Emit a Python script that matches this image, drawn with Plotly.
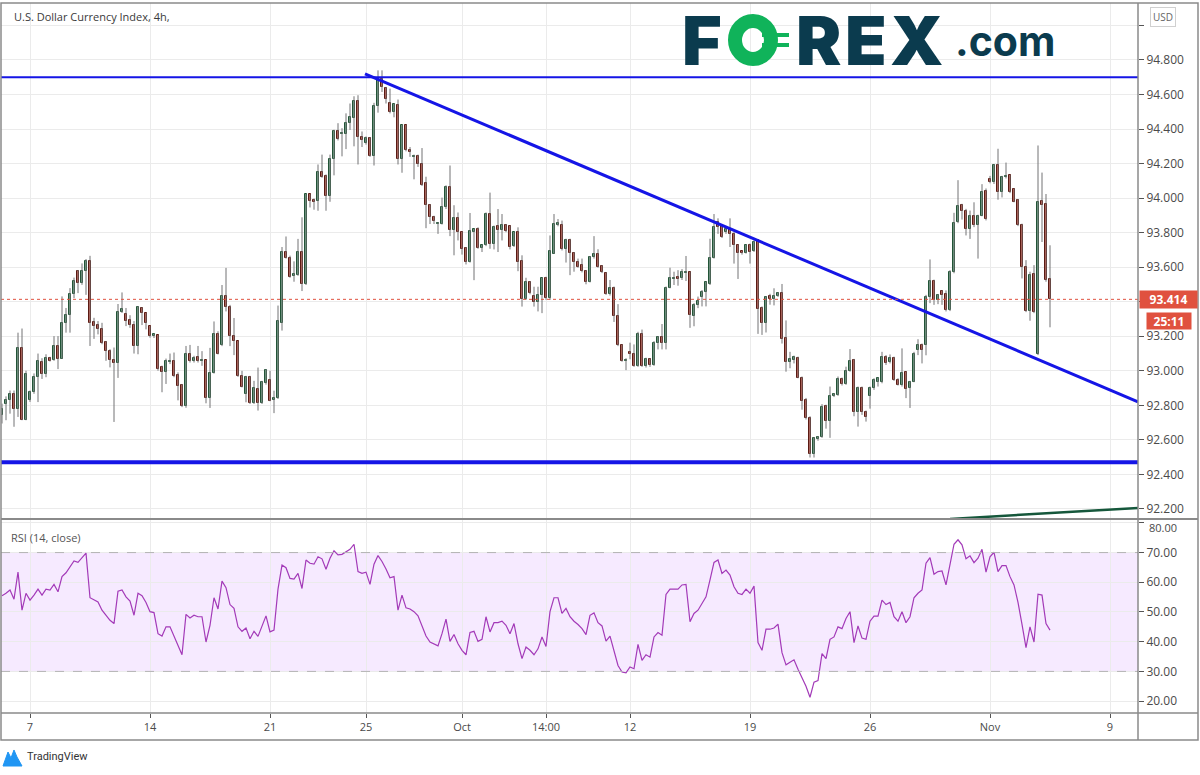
import plotly.graph_objects as go

# ---------------- data ----------------
opens = [
    92.743, 92.806, 92.829, 92.863, 92.781, 93.131, 92.718, 92.832, 92.880, 92.963,
    93.054, 92.982, 93.077, 93.062, 93.142, 93.071, 93.276, 93.322, 93.446, 93.580,
    93.511, 93.580, 93.636, 93.282, 93.263, 93.240, 93.169, 93.115, 93.064, 93.043,
    93.339, 93.330, 93.297, 93.268, 93.144, 93.364, 93.335, 93.259, 93.204, 93.207,
    93.020, 92.991, 93.053, 93.058, 92.976, 92.920, 92.794, 93.100, 93.058, 93.083,
    93.058, 93.061, 92.843, 92.990, 93.214, 93.149, 93.434, 93.367, 93.204, 93.172,
    92.971, 92.866, 92.965, 92.814, 92.894, 92.814, 92.927, 92.946, 92.833, 92.843,
    93.277, 93.688, 93.654, 93.551, 93.554, 93.688, 93.501, 94.023, 93.988, 93.984,
    94.153, 94.128, 94.013, 94.227, 94.390, 94.370, 94.372, 94.434, 94.462, 94.564,
    94.353, 94.319, 94.348, 94.246, 94.533, 94.692, 94.640, 94.552, 94.501, 94.539,
    94.227, 94.424, 94.281, 94.239, 94.246, 94.195, 94.086, 93.961, 93.889, 93.850,
    93.850, 93.946, 94.067, 93.818, 93.883, 93.803, 93.711, 93.631, 93.803, 93.822,
    93.711, 93.726, 93.908, 93.736, 93.837, 93.818, 93.845, 93.841, 93.722, 93.803,
    93.634, 93.416, 93.516, 93.436, 93.401, 93.439, 93.535, 93.424, 93.678, 93.843,
    93.847, 93.703, 93.755, 93.684, 93.631, 93.612, 93.577, 93.516, 93.660, 93.679,
    93.608, 93.564, 93.444, 93.482, 93.316, 93.149, 93.059, 93.111, 93.099, 93.029,
    93.214, 93.029, 93.067, 93.034, 93.163, 93.195, 93.163, 93.482, 93.531, 93.545,
    93.535, 93.566, 93.570, 93.316, 93.382, 93.430, 93.459, 93.501, 93.654, 93.860,
    93.845, 93.803, 93.822, 93.793, 93.727, 93.692, 93.684, 93.727, 93.692, 93.755,
    93.363, 93.277, 93.432, 93.417, 93.432, 93.451, 93.191, 93.049, 93.063, 93.074,
    92.961, 92.833, 92.727, 92.517, 92.608, 92.616, 92.794, 92.712, 92.852, 92.861,
    92.953, 92.923, 92.999, 93.063, 92.764, 92.902, 92.764, 92.852, 92.900, 92.938,
    92.934, 93.082, 93.049, 93.072, 92.948, 92.919, 92.992, 92.900, 92.938, 93.120,
    93.149, 93.149, 93.428, 93.522, 93.408, 93.461, 93.447, 93.352, 93.570, 93.861,
    93.961, 93.928, 93.823, 93.895, 93.842, 93.899, 94.043, 94.110, 94.091, 94.190,
    94.033, 94.123, 94.133, 94.052, 93.991, 93.846, 93.602, 93.348, 93.558, 93.095,
    93.986, 93.966, 93.531,
]
highs = [
    92.810, 92.852, 92.886, 92.886, 93.221, 93.245, 93.001, 92.886, 92.985, 93.100,
    93.073, 93.096, 93.081, 93.201, 93.201, 93.431, 93.364, 93.479, 93.540, 93.584,
    93.622, 93.647, 93.666, 93.307, 93.288, 93.278, 93.173, 93.125, 93.135, 93.387,
    93.454, 93.364, 93.322, 93.288, 93.374, 93.368, 93.335, 93.259, 93.215, 93.207,
    93.030, 93.071, 93.100, 93.106, 92.991, 92.924, 93.144, 93.150, 93.087, 93.144,
    93.114, 93.061, 93.133, 93.286, 93.229, 93.497, 93.596, 93.382, 93.306, 93.172,
    93.000, 92.971, 92.971, 92.942, 93.019, 92.942, 93.010, 93.000, 92.885, 93.378,
    93.717, 93.778, 93.667, 93.634, 93.764, 93.889, 94.023, 94.023, 93.998, 94.195,
    94.252, 94.137, 94.252, 94.396, 94.434, 94.405, 94.491, 94.548, 94.590, 94.596,
    94.386, 94.357, 94.354, 94.552, 94.740, 94.740, 94.644, 94.634, 94.547, 94.571,
    94.424, 94.424, 94.296, 94.252, 94.252, 94.290, 94.124, 93.965, 93.898, 93.860,
    94.003, 94.074, 94.189, 93.959, 93.917, 93.807, 93.717, 93.914, 93.822, 93.831,
    93.730, 93.917, 94.032, 93.841, 93.937, 93.908, 93.850, 93.841, 93.803, 93.831,
    93.669, 93.539, 93.520, 93.487, 93.487, 93.539, 93.545, 93.784, 93.908, 93.879,
    93.870, 93.765, 93.765, 93.688, 93.650, 93.650, 93.583, 93.665, 93.780, 93.704,
    93.612, 93.570, 93.526, 93.488, 93.386, 93.153, 93.073, 93.163, 93.153, 93.226,
    93.239, 93.076, 93.072, 93.172, 93.201, 93.271, 93.488, 93.597, 93.574, 93.583,
    93.589, 93.665, 93.574, 93.392, 93.430, 93.468, 93.516, 93.765, 93.908, 93.883,
    93.850, 93.832, 93.883, 93.803, 93.731, 93.692, 93.731, 93.737, 93.755, 93.760,
    93.373, 93.432, 93.446, 93.478, 93.455, 93.503, 93.292, 93.110, 93.088, 93.082,
    92.967, 92.843, 92.737, 92.616, 92.622, 92.807, 92.804, 92.909, 92.871, 92.967,
    92.961, 93.024, 93.126, 93.069, 92.909, 92.909, 92.770, 92.909, 92.957, 92.961,
    93.110, 93.091, 93.095, 93.082, 92.957, 93.130, 92.996, 92.942, 93.110, 93.183,
    93.158, 93.440, 93.645, 93.528, 93.445, 93.466, 93.466, 93.583, 93.915, 94.104,
    93.967, 93.938, 93.928, 93.976, 93.904, 94.081, 94.056, 94.129, 94.196, 94.286,
    94.129, 94.206, 94.135, 94.056, 93.995, 93.852, 93.641, 93.574, 93.612, 94.305,
    94.148, 94.024, 93.727,
]
lows = [
    92.695, 92.714, 92.752, 92.676, 92.733, 92.714, 92.714, 92.820, 92.867, 92.819,
    92.953, 92.963, 93.054, 93.058, 93.010, 93.069, 93.221, 93.221, 93.421, 93.450,
    93.498, 93.440, 93.144, 93.185, 93.211, 93.154, 93.058, 93.020, 92.704, 92.959,
    93.335, 93.259, 93.249, 93.100, 93.096, 93.265, 93.240, 93.192, 93.190, 93.001,
    92.876, 92.924, 93.039, 92.963, 92.829, 92.790, 92.786, 93.048, 93.048, 93.048,
    93.029, 92.812, 92.785, 92.984, 93.095, 93.143, 93.344, 93.143, 93.091, 92.965,
    92.904, 92.818, 92.808, 92.808, 92.770, 92.808, 92.920, 92.824, 92.755, 92.837,
    93.233, 93.650, 93.539, 93.516, 93.550, 93.462, 93.497, 93.946, 93.933, 93.927,
    94.118, 93.927, 93.979, 94.132, 94.334, 94.242, 94.284, 94.395, 94.300, 94.195,
    94.296, 94.310, 94.239, 94.189, 94.495, 94.615, 94.548, 94.491, 94.468, 94.195,
    94.147, 94.271, 94.239, 94.109, 94.181, 94.070, 93.826, 93.850, 93.850, 93.793,
    93.847, 93.937, 93.780, 93.669, 93.755, 93.673, 93.616, 93.627, 93.525, 93.707,
    93.688, 93.722, 93.707, 93.703, 93.688, 93.755, 93.803, 93.703, 93.717, 93.577,
    93.372, 93.411, 93.443, 93.372, 93.344, 93.334, 93.411, 93.411, 93.678, 93.837,
    93.697, 93.627, 93.554, 93.574, 93.597, 93.570, 93.501, 93.512, 93.650, 93.597,
    93.566, 93.440, 93.436, 93.283, 93.143, 93.053, 93.004, 93.067, 93.023, 93.023,
    93.023, 93.019, 93.023, 93.029, 93.124, 93.124, 93.124, 93.478, 93.497, 93.493,
    93.526, 93.520, 93.249, 93.258, 93.363, 93.373, 93.373, 93.497, 93.650, 93.793,
    93.769, 93.793, 93.717, 93.621, 93.532, 93.673, 93.679, 93.621, 93.688, 93.214,
    93.208, 93.222, 93.383, 93.379, 93.428, 93.158, 92.995, 93.015, 93.043, 92.957,
    92.775, 92.718, 92.498, 92.498, 92.595, 92.612, 92.665, 92.612, 92.848, 92.855,
    92.915, 92.919, 92.995, 92.737, 92.677, 92.745, 92.706, 92.781, 92.890, 92.909,
    92.928, 93.034, 93.043, 92.942, 92.915, 92.909, 92.842, 92.785, 92.934, 93.091,
    93.043, 93.090, 93.392, 93.382, 93.386, 93.382, 93.344, 93.346, 93.565, 93.855,
    93.876, 93.784, 93.764, 93.832, 93.650, 93.895, 93.871, 94.086, 94.082, 93.991,
    94.004, 94.114, 94.029, 93.976, 93.838, 93.535, 93.340, 93.290, 93.334, 93.091,
    93.746, 93.516, 93.252,
]
closes = [
    92.781, 92.832, 92.863, 92.781, 93.131, 92.718, 92.982, 92.880, 92.966, 93.058,
    92.982, 93.077, 93.058, 93.142, 93.071, 93.276, 93.322, 93.446, 93.523, 93.511,
    93.580, 93.636, 93.278, 93.257, 93.240, 93.163, 93.112, 93.064, 93.043, 93.339,
    93.358, 93.291, 93.263, 93.144, 93.368, 93.335, 93.278, 93.202, 93.215, 93.010,
    92.991, 93.058, 93.057, 92.972, 92.915, 92.796, 93.100, 93.058, 93.077, 93.058,
    93.062, 92.843, 92.990, 93.214, 93.099, 93.434, 93.367, 93.204, 93.172, 92.971,
    92.908, 92.965, 92.814, 92.898, 92.814, 92.933, 93.004, 92.828, 92.845, 93.286,
    93.688, 93.654, 93.545, 93.558, 93.688, 93.501, 94.023, 93.984, 93.975, 94.153,
    94.124, 94.013, 94.227, 94.390, 94.342, 94.378, 94.437, 94.468, 94.564, 94.353,
    94.334, 94.348, 94.246, 94.533, 94.692, 94.644, 94.577, 94.501, 94.543, 94.227,
    94.424, 94.277, 94.265, 94.246, 94.195, 94.074, 93.961, 93.889, 93.870, 93.856,
    93.946, 94.067, 93.818, 93.883, 93.803, 93.703, 93.631, 93.807, 93.822, 93.711,
    93.726, 93.908, 93.736, 93.831, 93.818, 93.845, 93.807, 93.717, 93.803, 93.631,
    93.416, 93.516, 93.449, 93.401, 93.439, 93.535, 93.424, 93.692, 93.850, 93.858,
    93.703, 93.759, 93.684, 93.631, 93.602, 93.577, 93.516, 93.660, 93.679, 93.602,
    93.570, 93.444, 93.482, 93.316, 93.149, 93.057, 93.065, 93.096, 93.029, 93.214,
    93.029, 93.067, 93.034, 93.163, 93.195, 93.163, 93.482, 93.535, 93.539, 93.531,
    93.570, 93.572, 93.325, 93.382, 93.405, 93.459, 93.512, 93.654, 93.832, 93.832,
    93.774, 93.822, 93.793, 93.727, 93.684, 93.684, 93.727, 93.688, 93.746, 93.360,
    93.276, 93.428, 93.417, 93.436, 93.451, 93.187, 93.049, 93.066, 93.082, 92.961,
    92.827, 92.727, 92.517, 92.612, 92.616, 92.788, 92.712, 92.852, 92.865, 92.953,
    92.923, 92.999, 93.057, 92.764, 92.902, 92.764, 92.735, 92.900, 92.948, 92.957,
    93.082, 93.043, 93.072, 92.948, 92.919, 92.986, 92.896, 92.938, 93.095, 93.149,
    93.120, 93.428, 93.520, 93.413, 93.437, 93.437, 93.352, 93.570, 93.857, 93.957,
    93.928, 93.819, 93.895, 93.842, 93.899, 94.037, 93.880, 94.091, 94.190, 94.033,
    94.123, 94.129, 94.033, 93.980, 93.842, 93.602, 93.348, 93.554, 93.340, 93.980,
    93.961, 93.526, 93.414,
]
rsi = [
    55.5, 56.3, 57.4, 54.3, 63.4, 50.6, 56.3, 54.0, 55.7, 57.7,
    55.7, 57.7, 57.4, 59.3, 56.8, 61.9, 63.2, 65.3, 67.2, 66.7,
    68.1, 69.8, 54.8, 54.0, 53.4, 50.6, 48.9, 47.2, 46.1, 57.0,
    57.4, 55.1, 53.7, 48.9, 56.3, 55.5, 53.2, 50.1, 49.8, 42.7,
    41.9, 45.0, 45.0, 41.9, 39.3, 35.6, 49.2, 48.0, 48.9, 48.4,
    48.4, 39.9, 45.5, 54.8, 51.0, 60.4, 58.2, 52.5, 51.2, 45.0,
    43.5, 44.6, 41.0, 43.5, 41.8, 45.5, 48.7, 43.3, 43.9, 57.7,
    65.8, 64.9, 61.3, 61.1, 63.0, 57.9, 67.5, 66.4, 66.1, 68.6,
    67.9, 64.4, 68.1, 70.6, 69.2, 69.4, 70.3, 71.1, 72.8, 63.6,
    63.0, 63.4, 59.3, 66.1, 69.0, 67.0, 64.5, 61.5, 61.9, 50.6,
    55.7, 51.4, 51.0, 50.1, 48.7, 45.5, 41.9, 39.9, 39.3, 38.6,
    42.7, 47.6, 40.1, 42.4, 39.3, 37.1, 35.6, 43.1, 43.5, 40.1,
    40.8, 48.4, 43.3, 46.4, 46.4, 46.9, 45.5, 42.7, 46.1, 39.3,
    34.3, 38.2, 37.1, 35.6, 37.6, 41.6, 38.4, 50.1, 54.8, 54.8,
    49.5, 51.2, 48.4, 46.9, 45.8, 44.4, 42.4, 48.9, 49.7, 46.4,
    45.3, 40.2, 41.9, 36.5, 32.0, 29.8, 29.5, 31.5, 30.9, 39.1,
    33.7, 35.6, 34.8, 41.6, 43.1, 42.2, 55.9, 57.7, 57.7, 57.7,
    59.1, 59.3, 46.7, 49.5, 50.6, 52.9, 55.1, 60.8, 66.7, 67.5,
    63.0, 64.1, 62.4, 58.5, 56.3, 55.9, 57.7, 56.3, 58.7, 39.7,
    37.1, 44.2, 44.2, 44.6, 45.9, 36.3, 32.2, 33.1, 33.9, 30.7,
    27.7, 25.0, 21.3, 26.4, 26.9, 36.0, 34.3, 40.8, 41.6, 45.0,
    44.4, 47.8, 50.1, 39.7, 45.3, 41.2, 40.8, 46.9, 48.6, 48.6,
    54.0, 52.5, 53.2, 48.4, 46.9, 50.1, 46.4, 48.4, 54.8, 56.3,
    57.4, 66.4, 68.3, 62.7, 63.6, 63.8, 59.1, 66.1, 72.8, 74.3,
    72.6, 67.9, 68.9, 66.6, 68.1, 71.1, 63.4, 68.6, 70.1, 63.6,
    65.6, 65.6, 61.9, 59.1, 53.2, 45.8, 38.0, 45.0, 39.9, 56.0,
    55.7, 46.1, 43.9,
]
bars = list(range(1, len(closes) + 1))          # 4h bar index (weekends removed)

tick_bars = [8, 38, 68, 92, 116, 137, 158, 188, 218, 248, 278]
tick_labels = ["7", "14", "21", "25", "Oct", "14:00", "12", "19", "26", "Nov", "9"]

price_ticks = [92.2, 92.4, 92.6, 92.8, 93.0, 93.2, 93.4, 93.6, 93.8, 94.0,
               94.2, 94.4, 94.6, 94.8, 95.0]
price_tick_labels = ["92.200", "92.400", "92.600", "92.800", "93.000", "93.200", "",
                     "93.600", "93.800", "94.000", "94.200", "94.400", "94.600",
                     "94.800", ""]
rsi_ticks = [20, 30, 40, 50, 60, 70, 80]
rsi_tick_labels = ["20.00", "30.00", "40.00", "50.00", "60.00", "70.00", ""]
rsi_top_label = "80.00"

resistance_level = 94.70
support_level = 92.47
trend_start = (91.75, 94.72)
trend_end = (285.0, 92.82)
green_start = (238.0, 92.142)
green_end = (285.0, 92.206)
last_price = 93.414
countdown = "25:11"
rsi_upper, rsi_lower = 70, 30

# ---------------- geometry helpers (pixel -> paper) ----------------
W, H = 1200, 775
PL, PR, PT, PB = 1, 1138, 3, 713


def fx(px):
    return (px - PL) / (PR - PL)


def fy(py):
    return (PB - py) / (PB - PT)


split = fy(519)
X_RANGE = [0.75, 285.0]

UP_FILL, DN_FILL = "#6ba583", "#d75442"
UP_LINE, DN_LINE = "#225437", "#5b1a13"
WICK = "#737375"
BLUE = "#1515e6"

fig = go.Figure()

# wicks
wx, wy = [], []
for b, h, l in zip(bars, highs, lows):
    wx += [b, b, None]
    wy += [h, l, None]
fig.add_trace(go.Scatter(x=wx, y=wy, mode="lines", line=dict(color=WICK, width=1),
                         hoverinfo="skip", showlegend=False, xaxis="x", yaxis="y"))

# bodies
base = [min(o, c) for o, c in zip(opens, closes)]
height = [max(abs(c - o), 0.003) for o, c in zip(opens, closes)]
up = [c >= o for o, c in zip(opens, closes)]
fig.add_trace(go.Bar(
    x=bars, y=height, base=base, width=0.72,
    marker=dict(color=[UP_FILL if u else DN_FILL for u in up],
                line=dict(color=[UP_LINE if u else DN_LINE for u in up], width=1)),
    showlegend=False, hoverinfo="skip", xaxis="x", yaxis="y"))

# RSI
fig.add_trace(go.Scatter(x=bars, y=rsi, mode="lines", line=dict(color="#a33ab8", width=1.2),
                         showlegend=False, hoverinfo="skip", xaxis="x2", yaxis="y2"))

shapes = []
# RSI band
shapes.append(dict(type="rect", xref="x2", yref="y2", x0=X_RANGE[0], x1=X_RANGE[1],
                   y0=rsi_lower, y1=rsi_upper, fillcolor="rgba(153,21,255,0.09)",
                   line=dict(width=0), layer="below"))
for lv in (rsi_lower, rsi_upper):
    shapes.append(dict(type="line", xref="x2", yref="y2", x0=X_RANGE[0], x1=X_RANGE[1],
                       y0=lv, y1=lv, line=dict(color="#b4b4b4", width=1, dash="dash")))
# drawings
shapes.append(dict(type="line", xref="x", yref="y", x0=X_RANGE[0], x1=X_RANGE[1],
                   y0=resistance_level, y1=resistance_level, line=dict(color=BLUE, width=2)))
shapes.append(dict(type="line", xref="x", yref="y", x0=X_RANGE[0], x1=X_RANGE[1],
                   y0=support_level, y1=support_level, line=dict(color=BLUE, width=4)))
shapes.append(dict(type="line", xref="x", yref="y", x0=trend_start[0], y0=trend_start[1],
                   x1=trend_end[0], y1=trend_end[1], line=dict(color=BLUE, width=3)))
shapes.append(dict(type="line", xref="x", yref="y", x0=green_start[0], y0=green_start[1],
                   x1=green_end[0], y1=green_end[1], line=dict(color="#15573b", width=2.5)))
shapes.append(dict(type="line", xref="x", yref="y", x0=X_RANGE[0], x1=X_RANGE[1],
                   y0=last_price, y1=last_price, line=dict(color="#e0513f", width=1, dash="dot")))
# frame
FR = "#8a8a8a"
shapes.append(dict(type="rect", xref="paper", yref="paper", x0=fx(1), x1=fx(1198),
                   y0=fy(740), y1=fy(3), line=dict(color=FR, width=1.5)))
shapes.append(dict(type="line", xref="paper", yref="paper", x0=1, x1=1,
                   y0=fy(740), y1=fy(3), line=dict(color=FR, width=1.5)))
shapes.append(dict(type="line", xref="paper", yref="paper", x0=fx(1), x1=fx(1198),
                   y0=split, y1=split, line=dict(color=FR, width=2)))
shapes.append(dict(type="line", xref="paper", yref="paper", x0=fx(1), x1=fx(1198),
                   y0=0, y1=0, line=dict(color=FR, width=1.5)))
# tick mark for the 80 level label
# TradingView icon
ix = [3, 8, 11, 14, 17, 22]
iy = [766, 752, 758, 750, 757, 766]
path = "M " + " L ".join(f"{fx(a):.5f},{fy(b):.5f}" for a, b in zip(ix, iy)) + " Z"
shapes.append(dict(type="path", xref="paper", yref="paper", path=path,
                   fillcolor="#2196f3", line=dict(color="#2196f3", width=1)))

# FOREX.com logo: green "O" drawn as a ring with two bars
DARK, GREEN = "#0b3b4e", "#10b35a"
shapes.append(dict(type="circle", xref="paper", yref="paper", x0=fx(735), x1=fx(771),
                   y0=fy(59), y1=fy(21), line=dict(color=GREEN, width=14)))
for yb in (35, 45):
    shapes.append(dict(type="line", xref="paper", yref="paper", x0=fx(762), x1=fx(789),
                       y0=fy(yb), y1=fy(yb), line=dict(color=GREEN, width=4)))

ann = []
ann.append(dict(text="U.S. Dollar Currency Index, 4h,", xref="paper", yref="paper",
                x=fx(12), y=fy(17), xanchor="left", yanchor="middle", showarrow=False,
                font=dict(family="Open Sans", size=11, color="#3a3a3a")))
ann.append(dict(text="RSI (14, close)", xref="paper", yref="paper",
                x=fx(9), y=fy(537), xanchor="left", yanchor="middle", showarrow=False,
                font=dict(family="Open Sans", size=11, color="#555555")))
for ch, cx in [("F", 702), ("R", 818), ("E", 866), ("X", 916)]:
    ann.append(dict(text=ch, xref="paper", yref="paper", x=fx(cx), y=fy(40),
                    xanchor="center", yanchor="middle", showarrow=False,
                    font=dict(family="Inter", size=68, color=DARK, weight=900)))
ann.append(dict(text=".com", xref="paper", yref="paper", x=fx(953), y=fy(41),
                xanchor="left", yanchor="middle", showarrow=False,
                font=dict(family="Inter", size=41, color=DARK, weight=700)))
# last price labels
ann.append(dict(text=f"<b>{last_price:.3f}</b>", xref="paper", yref="y", x=fx(1139), y=last_price,
                xanchor="left", yanchor="middle", showarrow=False, bgcolor="#e0513f",
                width=55, height=15, font=dict(family="Open Sans", size=12, color="white")))
ann.append(dict(text=f"<b>{countdown}</b>", xref="paper", yref="paper", x=fx(1146), y=fy(321),
                xanchor="left", yanchor="middle", showarrow=False, bgcolor="#e0513f",
                width=42, height=14, font=dict(family="Open Sans", size=12, color="white")))
ann.append(dict(text="USD", xref="paper", yref="paper", x=fx(1163), y=fy(17),
                xanchor="center", yanchor="middle", showarrow=False, bgcolor="white",
                bordercolor="#d0d0d0", borderwidth=1, borderpad=2,
                font=dict(family="Open Sans", size=10, color="#666666")))
ann.append(dict(text=rsi_top_label, xref="paper", yref="paper", x=fx(1147), y=fy(527),
                xanchor="left", yanchor="middle", showarrow=False,
                font=dict(family="Open Sans", size=11, color="#4a4a4a")))
ann.append(dict(text="TradingView", xref="paper", yref="paper", x=fx(25), y=fy(757),
                xanchor="left", yanchor="middle", showarrow=False,
                font=dict(family="Roboto", size=11, color="#333333")))

GRID = "#ebebeb"
TICKF = dict(family="Open Sans", size=12, color="#4a4a4a")
fig.update_layout(
    width=W, height=H, paper_bgcolor="white", plot_bgcolor="white",
    margin=dict(l=PL, r=W - PR, t=PT, b=H - PB),
    showlegend=False, bargap=0, barmode="overlay",
    shapes=shapes, annotations=ann,
    xaxis=dict(domain=[0, 1], anchor="y", range=X_RANGE, tickvals=tick_bars,
               showticklabels=False, showgrid=True, gridcolor=GRID, zeroline=False,
               rangeslider=dict(visible=False), fixedrange=True),
    xaxis2=dict(domain=[0, 1], anchor="y2", range=X_RANGE, matches="x", tickvals=tick_bars,
                ticktext=tick_labels, showgrid=True, gridcolor=GRID, zeroline=False,
                ticks="outside", ticklen=4, tickcolor="#555555",
                tickfont=dict(family="Open Sans", size=11, color="#4a4a4a")),
    yaxis=dict(domain=[split, 1], anchor="x", side="right", range=[92.142, 95.13],
               tickvals=price_ticks, ticktext=price_tick_labels, showgrid=True, gridcolor=GRID,
               zeroline=False, ticks="outside", ticklen=5, tickcolor="#555555", tickfont=TICKF),
    yaxis2=dict(domain=[0, split], anchor="x2", side="right", range=[16, 81.3],
                tickvals=rsi_ticks, ticktext=rsi_tick_labels, showgrid=True,
                gridcolor=GRID, zeroline=False, ticks="outside", ticklen=5,
                tickcolor="#555555", tickfont=TICKF),
)

fig.write_html("out.html", config={"displayModeBar": False},
               post_script="document.body.style.margin='0px';")
